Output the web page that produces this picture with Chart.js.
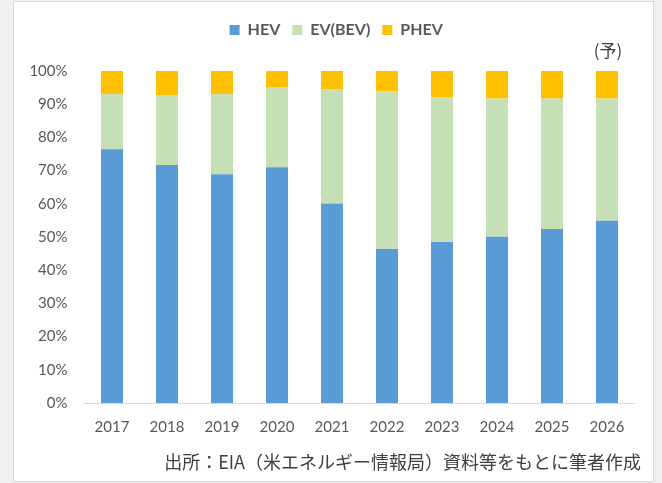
<!DOCTYPE html>
<html>
<head>
<meta charset="utf-8">
<script src="https://cdn.jsdelivr.net/npm/chart.js@4"></script>
<style>
  body { margin: 0; background: #f0f0f0; }
  canvas { display: block; }
</style>
</head>
<body>
<canvas id="evChart" width="662" height="483"></canvas>
<script>
const years = ['2017', '2018', '2019', '2020', '2021', '2022', '2023', '2024', '2025', '2026'];
const hevShare = [76.4, 71.7, 68.9, 71.0, 60.1, 46.4, 48.5, 50.1, 52.4, 54.9];
const bevShare = [16.7, 20.9, 24.2, 24.2, 34.5, 47.4, 43.7, 41.6, 39.3, 36.8];
const phevShare = [6.9, 7.4, 6.9, 4.8, 5.4, 6.2, 7.8, 8.3, 8.3, 8.3];
const forecastNote = '(予)';
const sourceNote = '出所：EIA（米エネルギー情報局）資料等をもとに筆者作成';

const labelFont = 'Lato, "Noto Sans", sans-serif';
const jpFont = '"Noto Sans CJK JP", sans-serif';

// frame + notes
const framePlugin = {
    id: 'frame',
    beforeInit(chart) {
        const origFit = chart.legend.fit;
        chart.legend.fit = function () {
            origFit.bind(chart.legend)();
            this.height = 61;
        };
    },
    afterLayout(chart) {
        // legend sits a bit right of center in the original
        chart.legend.left += 19;
        chart.legend.right += 19;
    },
    beforeDraw(chart) {
        const ctx = chart.ctx;
        ctx.save();
        ctx.fillStyle = '#f0f0f0';
        ctx.fillRect(0, 0, chart.width, chart.height);
        ctx.fillStyle = '#ffffff';
        ctx.fillRect(13.5, 1.5, 640, 480);
        ctx.strokeStyle = '#d9d9d9';
        ctx.lineWidth = 1;
        ctx.strokeRect(13.5, 1.5, 640, 480);
        ctx.restore();
    },
    afterDraw(chart) {
        const ctx = chart.ctx;
        ctx.save();
        ctx.fillStyle = '#404040';
        ctx.textBaseline = 'middle';
        ctx.font = '17px ' + jpFont;
        ctx.textAlign = 'center';
        ctx.fillText(forecastNote, 608, 51);
        ctx.font = '18px ' + jpFont;
        ctx.textAlign = 'right';
        ctx.fillText(sourceNote, 641, 462);
        ctx.restore();
    }
};

const ctx = document.getElementById('evChart').getContext('2d');
const myChart = new Chart(ctx, {
    type: 'bar',
    data: {
        labels: years,
        datasets: [
            { label: 'HEV', data: hevShare, backgroundColor: '#5b9bd5' },
            { label: 'EV(BEV)', data: bevShare, backgroundColor: '#c5e0b4' },
            { label: 'PHEV', data: phevShare, backgroundColor: '#ffc000' }
        ]
    },
    options: {
        responsive: false,
        devicePixelRatio: 1,
        animation: false,
        categoryPercentage: 0.8,
        barPercentage: 0.5,
        layout: {
            padding: { top: 10, right: 27.5, bottom: 0, left: 0 }
        },
        plugins: {
            legend: {
                position: 'top',
                labels: {
                    boxWidth: 10,
                    boxHeight: 10,
                    padding: 12,
                    color: '#595959',
                    font: { family: labelFont, size: 16, weight: 'bold' }
                }
            },
            tooltip: { enabled: false }
        },
        scales: {
            x: {
                stacked: true,
                grid: { display: false, drawTicks: false },
                border: { display: true, color: '#d9d9d9', width: 1 },
                ticks: {
                    color: '#595959',
                    padding: 15,
                    font: { family: labelFont, size: 15 }
                },
                afterFit(scale) { scale.height = 80; }
            },
            y: {
                stacked: true,
                min: 0,
                max: 100,
                grid: { display: false, drawTicks: false },
                border: { display: false },
                ticks: {
                    stepSize: 10,
                    color: '#595959',
                    padding: 17,
                    font: { family: labelFont, size: 15 },
                    callback: v => v + '%'
                },
                afterFit(scale) { scale.width = 84.5; }
            }
        }
    },
    plugins: [framePlugin]
});
</script>
</body>
</html>
